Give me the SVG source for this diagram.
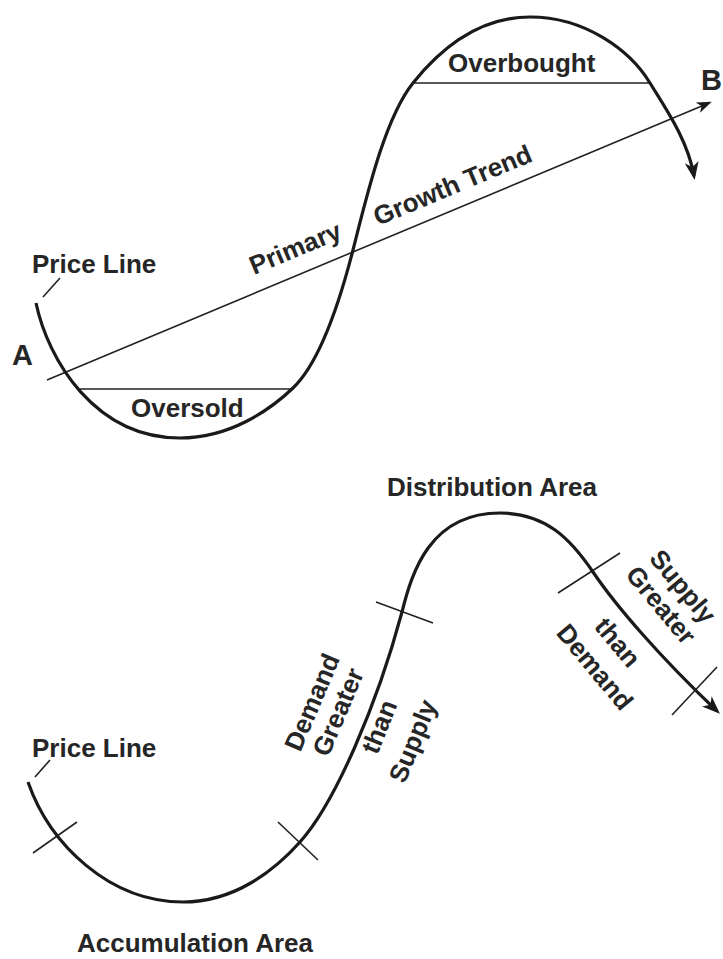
<svg xmlns="http://www.w3.org/2000/svg" width="723" height="959" viewBox="0 0 723 959">
<style>
  .curve{fill:none;stroke:#1a1a1a;stroke-width:3.2;stroke-linecap:butt}
  .thin{fill:none;stroke:#222;stroke-width:1.6}
  .lbl{font-family:"Liberation Sans",Arial,Helvetica,sans-serif;font-weight:bold;font-size:26px;fill:#262626}
  .big{font-size:29px}
</style>
<defs>
  <marker id="ahBig" markerWidth="18" markerHeight="14" refX="14" refY="7" orient="auto" markerUnits="userSpaceOnUse">
    <path d="M0,0 L18,7 L0,14 L5,7 z" fill="#1a1a1a"/>
  </marker>
  <marker id="ahSmall" markerWidth="15" markerHeight="11" refX="12" refY="5.5" orient="auto" markerUnits="userSpaceOnUse">
    <path d="M0,0 L15,5.5 L0,11 L4,5.5 z" fill="#1a1a1a"/>
  </marker>
</defs>
<rect width="723" height="959" fill="#ffffff"/>

<!-- TOP DIAGRAM -->
<g id="connectors-top">
  <path id="trend-line" class="thin" d="M47,380 L709,103" marker-end="url(#ahSmall)"/>
  <line id="overbought-line" class="thin" x1="414" y1="83" x2="650" y2="83"/>
  <line id="oversold-line" class="thin" x1="80" y1="389" x2="293" y2="389"/>
  <line id="price-leader-top" class="thin" x1="43" y1="297" x2="60" y2="278"/>
</g>
<g id="price-curve-top">
  <path class="curve" d="M36,303 C48,360 95,438 180,438 C230,438 270,410 293,388 C316,366 335,320 353,250 C367,195 385,118 413,83 C441,48 480,17 530,17 C585,17 630,50 650,83 C664,106 688,140 694,176" marker-end="url(#ahBig)"/>
</g>
<g id="label-price-line-top"><text class="lbl" x="32" y="273">Price Line</text></g>
<g id="label-A"><text class="lbl big" x="12" y="365">A</text></g>
<g id="label-B"><text class="lbl big" x="701" y="90">B</text></g>
<g id="label-overbought"><text class="lbl" x="448" y="72">Overbought</text></g>
<g id="label-oversold"><text class="lbl" x="131" y="417">Oversold</text></g>
<g id="label-primary"><text class="lbl" transform="translate(254,275) rotate(-22.7)">Primary</text></g>
<g id="label-growth-trend"><text class="lbl" transform="translate(378,226) rotate(-22.7)">Growth Trend</text></g>

<!-- BOTTOM DIAGRAM -->
<g id="connectors-bottom">
  <line id="price-leader-bottom" class="thin" x1="35" y1="777" x2="50" y2="760"/>
  <line id="tick1" class="thin" x1="33" y1="853" x2="77" y2="822"/>
  <line id="tick2" class="thin" x1="278" y1="822" x2="318" y2="860"/>
  <line id="tick3" class="thin" x1="376" y1="602" x2="433" y2="623"/>
  <line id="tick4" class="thin" x1="558" y1="593" x2="620" y2="553"/>
  <line id="tick5" class="thin" x1="672" y1="715" x2="717" y2="667"/>
</g>
<g id="price-curve-bottom">
  <path class="curve" d="M28,782 C50,845 110,902 183,902 C235,902 275,870 300,842 C335,803 377,705 402,612 C412,572 430,513 500,513 C545,513 570,538 593,572 C616,606 660,657 717,711" marker-end="url(#ahBig)"/>
</g>
<g id="label-price-line-bottom"><text class="lbl" x="32" y="757">Price Line</text></g>
<g id="label-distribution"><text class="lbl" x="387" y="496">Distribution Area</text></g>
<g id="label-accumulation"><text class="lbl" x="77" y="952">Accumulation Area</text></g>
<g id="label-demand-greater-than-supply">
  <text class="lbl" transform="translate(312,702) rotate(-67)" x="0" y="9" text-anchor="middle">Demand</text>
  <text class="lbl" transform="translate(338,712) rotate(-67)" x="0" y="9" text-anchor="middle">Greater</text>
  <text class="lbl" transform="translate(380,727) rotate(-68)" x="0" y="8" text-anchor="middle">than</text>
  <text class="lbl" transform="translate(415,742) rotate(-68)" x="0" y="6.5" text-anchor="middle">Supply</text>
</g>
<g id="label-supply-greater-than-demand">
  <text class="lbl" transform="translate(681,588) rotate(50)" x="0" y="6.5" text-anchor="middle">Supply</text>
  <text class="lbl" transform="translate(661,605) rotate(50)" x="0" y="9" text-anchor="middle">Greater</text>
  <text class="lbl" transform="translate(617,643) rotate(50)" x="0" y="8" text-anchor="middle">than</text>
  <text class="lbl" transform="translate(595,667) rotate(50)" x="0" y="9" text-anchor="middle">Demand</text>
</g>
</svg>
